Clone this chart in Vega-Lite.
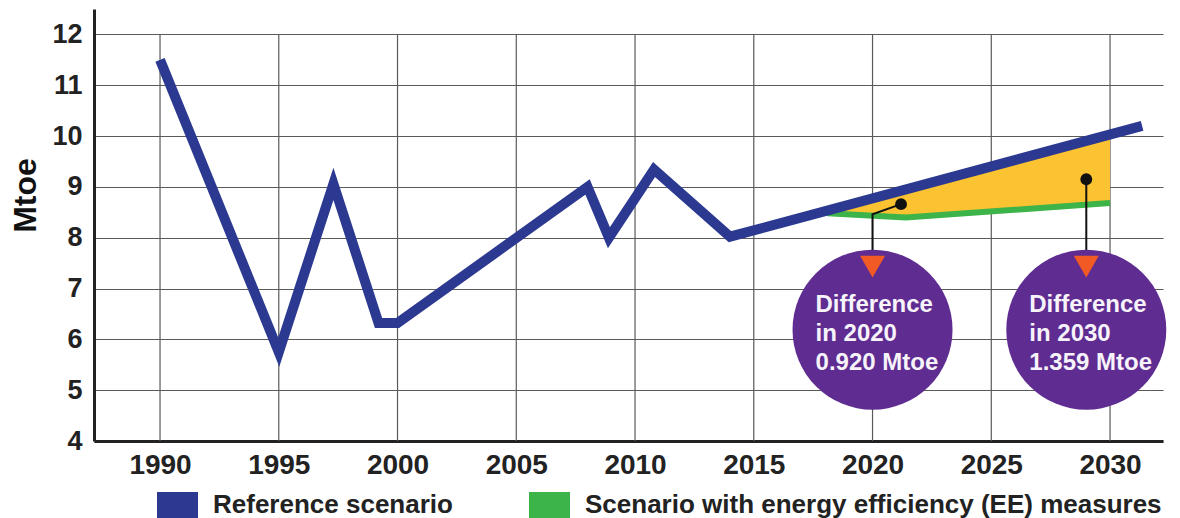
{
  "$schema": "https://vega.github.io/schema/vega-lite/v6.json",
  "width": 1069,
  "height": 432,
  "autosize": {"type": "none"},
  "padding": {"left": 94, "top": 9, "right": 17, "bottom": 77},
  "background": "white",
  "config": {"view": {"stroke": null}, "font": "Liberation Sans"},
  "datasets": {
    "gridYears": [
      {"year": 1990}, {"year": 1995}, {"year": 2000}, {"year": 2005}, {"year": 2010},
      {"year": 2015}, {"year": 2020}, {"year": 2025}, {"year": 2030}
    ],
    "reference": [
      {"year": 1990, "mtoe": 11.5},
      {"year": 1995, "mtoe": 5.75},
      {"year": 1997.3, "mtoe": 9.06},
      {"year": 1999.2, "mtoe": 6.32},
      {"year": 2000, "mtoe": 6.32},
      {"year": 2008, "mtoe": 9.0},
      {"year": 2008.9, "mtoe": 8.0},
      {"year": 2010.8, "mtoe": 9.34},
      {"year": 2014, "mtoe": 8.02},
      {"year": 2031.35, "mtoe": 10.2}
    ],
    "efficiency": [
      {"year": 2018.1, "ref": 8.54, "ee": 8.48},
      {"year": 2021.4, "ref": 8.95, "ee": 8.4},
      {"year": 2030, "ref": 10.04, "ee": 8.681}
    ],
    "callouts": [
      {"year": 2020, "marker_year": 2021.2, "marker": 8.66, "diff": 0.92, "label": ["Difference", "in 2020", "0.920 Mtoe"]},
      {"year": 2029, "marker_year": 2029, "marker": 9.15, "diff": 1.359, "label": ["Difference", "in 2030", "1.359 Mtoe"]}
    ],
    "leaders": [
      {"callout": "2020", "step": 1, "year": 2021.2, "mtoe": 8.66},
      {"callout": "2020", "step": 2, "year": 2020, "mtoe": 8.46},
      {"callout": "2020", "step": 3, "year": 2020, "mtoe": 7.5},
      {"callout": "2030", "step": 1, "year": 2029, "mtoe": 9.15},
      {"callout": "2030", "step": 2, "year": 2029, "mtoe": 7.5}
    ]
  },
  "layer": [
    {
      "data": {"name": "gridYears"},
      "mark": {"type": "rule", "color": "#5a5a5a", "strokeWidth": 1.2},
      "encoding": {
        "x": {
          "field": "year",
          "type": "quantitative",
          "title": null,
          "scale": {"domain": [1987.22, 2032.23], "nice": false, "zero": false},
          "axis": {
            "title": null,
            "values": [1990, 1995, 2000, 2005, 2010, 2015, 2020, 2025, 2030],
            "format": "d",
            "grid": false,
            "ticks": false,
            "tickSize": 0,
            "domainColor": "#222222",
            "domainWidth": 3,
            "labelFont": "Liberation Sans",
            "labelFontSize": 28,
            "labelFontWeight": "bold",
            "labelColor": "#222222",
            "labelBaseline": "alphabetic",
            "labelPadding": 32
          }
        },
        "y": {
          "datum": 4,
          "type": "quantitative",
          "title": "Mtoe",
          "scale": {"domain": [4, 12.5], "nice": false, "zero": false},
          "axis": {
            "title": "Mtoe",
            "values": [4, 5, 6, 7, 8, 9, 10, 11, 12],
            "grid": true,
            "gridColor": "#5a5a5a",
            "gridWidth": 1.2,
            "ticks": false,
            "tickSize": 0,
            "domainColor": "#222222",
            "domainWidth": 3,
            "labelFont": "Liberation Sans",
            "labelFontSize": 27,
            "labelFontWeight": "bold",
            "labelColor": "#222222",
            "labelPadding": 12,
            "titleFont": "Liberation Sans",
            "titleFontSize": 32,
            "titleFontWeight": "bold",
            "titleColor": "#111111",
            "titlePadding": 9,
            "titleY": 186
          }
        },
        "y2": {"datum": 12}
      }
    },
    {
      "mark": {"type": "rect", "fill": "white"},
      "encoding": {
        "x": {"datum": 2015.3, "type": "quantitative", "title": null},
        "x2": {"datum": 2032.3},
        "y": {"datum": 4.25, "type": "quantitative", "title": "Mtoe"},
        "y2": {"datum": 8.45}
      }
    },
    {
      "data": {"name": "efficiency"},
      "mark": {"type": "area", "fill": "#FBC231", "opacity": 1},
      "encoding": {
        "x": {"field": "year", "type": "quantitative", "title": null},
        "y": {"field": "ref", "type": "quantitative", "title": "Mtoe"},
        "y2": {"field": "ee"}
      }
    },
    {
      "data": {"name": "efficiency"},
      "mark": {"type": "line", "strokeWidth": 6, "strokeJoin": "miter", "strokeCap": "butt"},
      "encoding": {
        "x": {"field": "year", "type": "quantitative", "title": null},
        "y": {"field": "ee", "type": "quantitative", "title": "Mtoe"},
        "color": {
          "datum": "Scenario with energy efficiency (EE) measures",
          "type": "nominal",
          "scale": {
            "domain": ["Reference scenario", "Scenario with energy efficiency (EE) measures"],
            "range": ["#2B3990", "#3CB449"]
          },
          "legend": {
            "orient": "none",
            "legendX": 63,
            "legendY": 483,
            "direction": "horizontal",
            "title": null,
            "padding": 0,
            "symbolType": "square",
            "symbolSize": 1681,
            "symbolStrokeWidth": 0,
            "symbolOpacity": 1,
            "labelFont": "Liberation Sans",
            "labelFontSize": 26,
            "labelFontWeight": "bold",
            "labelColor": "#222222",
            "labelOffset": 15,
            "labelLimit": 0,
            "labelBaseline": "alphabetic",
            "columnPadding": 76,
            "encode": {"symbols": {"update": {"fill": {"scale": "color", "field": "value"}, "strokeWidth": {"value": 0}}}}
          }
        }
      }
    },
    {
      "data": {"name": "reference"},
      "mark": {"type": "line", "strokeWidth": 10, "strokeJoin": "miter", "strokeMiterLimit": 20, "strokeCap": "butt"},
      "encoding": {
        "x": {"field": "year", "type": "quantitative", "title": null},
        "y": {"field": "mtoe", "type": "quantitative", "title": "Mtoe"},
        "color": {
          "datum": "Reference scenario",
          "type": "nominal",
          "scale": {
            "domain": ["Reference scenario", "Scenario with energy efficiency (EE) measures"],
            "range": ["#2B3990", "#3CB449"]
          },
          "legend": {
            "orient": "none",
            "legendX": 63,
            "legendY": 483,
            "direction": "horizontal",
            "title": null,
            "padding": 0,
            "symbolType": "square",
            "symbolSize": 1681,
            "symbolStrokeWidth": 0,
            "symbolOpacity": 1,
            "labelFont": "Liberation Sans",
            "labelFontSize": 26,
            "labelFontWeight": "bold",
            "labelColor": "#222222",
            "labelOffset": 15,
            "labelLimit": 0,
            "labelBaseline": "alphabetic",
            "columnPadding": 76,
            "encode": {"symbols": {"update": {"fill": {"scale": "color", "field": "value"}, "strokeWidth": {"value": 0}}}}
          }
        }
      }
    },
    {
      "data": {"name": "leaders"},
      "mark": {"type": "line", "color": "#111111", "strokeWidth": 2},
      "encoding": {
        "x": {"field": "year", "type": "quantitative", "title": null},
        "y": {"field": "mtoe", "type": "quantitative", "title": "Mtoe"},
        "detail": {"field": "callout"},
        "order": {"field": "step", "type": "quantitative"}
      }
    },
    {
      "data": {"name": "callouts"},
      "mark": {"type": "point", "shape": "circle", "filled": true, "color": "#111111", "size": 140, "opacity": 1},
      "encoding": {
        "x": {"field": "marker_year", "type": "quantitative", "title": null},
        "y": {"field": "marker", "type": "quantitative", "title": "Mtoe"}
      }
    },
    {
      "data": {"name": "callouts"},
      "mark": {"type": "circle", "color": "#5F2C91", "size": 25600, "opacity": 1},
      "encoding": {
        "x": {"field": "year", "type": "quantitative", "title": null},
        "y": {"datum": 6.19, "type": "quantitative", "title": "Mtoe"}
      }
    },
    {
      "data": {"name": "callouts"},
      "mark": {"type": "point", "shape": "triangle-down", "filled": true, "color": "#F15A24", "size": 625, "opacity": 1},
      "encoding": {
        "x": {"field": "year", "type": "quantitative", "title": null},
        "y": {"datum": 7.43, "type": "quantitative", "title": "Mtoe"}
      }
    },
    {
      "data": {"name": "callouts"},
      "mark": {
        "type": "text",
        "align": "left",
        "baseline": "alphabetic",
        "dx": -57,
        "font": "Liberation Sans",
        "fontSize": 24,
        "fontWeight": "bold",
        "color": "#F7F3FA",
        "lineHeight": 29
      },
      "encoding": {
        "x": {"field": "year", "type": "quantitative", "title": null},
        "y": {"datum": 6.54, "type": "quantitative", "title": "Mtoe"},
        "text": {"field": "label"}
      }
    }
  ]
}
